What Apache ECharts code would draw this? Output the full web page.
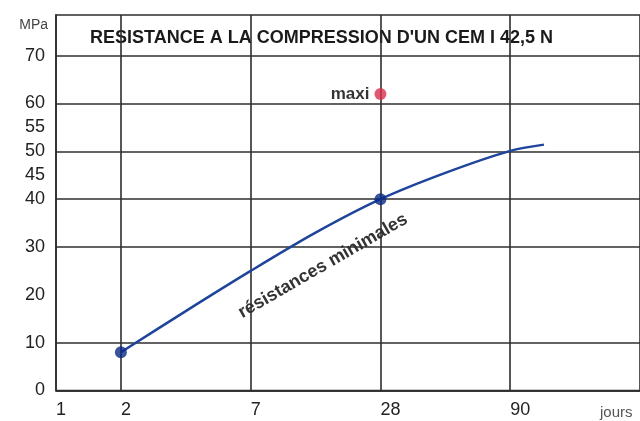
<!DOCTYPE html>
<html><head><meta charset="utf-8">
<script src="https://cdn.jsdelivr.net/npm/echarts@6/dist/echarts.min.js"></script>
<style>html,body{margin:0;padding:0;background:#fff}#c{width:640px;height:421px}</style>
</head><body><div id="c"></div>
<script>
// x axis: positions on the (non-uniform) time axis and their day labels
const dayTickPos = [0, 1, 3, 5, 7];
const dayTickLabels = ['1', '2', '7', '28', '90'];
const verticalGridPos = [1, 3, 5, 7];
// y axis
const mpaLabels = [0, 10, 20, 30, 40, 45, 50, 55, 60, 70];
const mpaGridLines = [0, 10, 30, 40, 50, 60, 70];
// curve "résistances minimales" (x in axis positions, y in MPa)
const curvePos = [1, 2, 3, 4, 5, 6, 7, 7.52];
const curveMPa = [8, 16.6, 25, 33, 40, 45.5, 50.1, 51.4];
// marked points
const minPointsPos = [1, 5];
const minPointsMPa = [8, 40];
const maxiPos = [5];
const maxiMPa = [62];

const FONT = 'Liberation Sans, Arial, sans-serif';
const chart = echarts.init(document.getElementById('c'), null, {renderer: 'canvas'});
const lineC = '#2e2e2e';
chart.setOption({
  animation: false,
  grid: {left: 56, right: -6, top: 15, bottom: 30.5, show: true, borderColor: lineC, borderWidth: 1.6},
  xAxis: {
    type: 'value', min: 0, max: 9,
    axisLine: {show: true, lineStyle: {color: lineC, width: 1.6}},
    axisTick: {show: false, customValues: verticalGridPos},
    splitLine: {show: true, lineStyle: {color: lineC, width: 1.6}},
    axisLabel: {
      customValues: dayTickPos, margin: 11, align: 'left',
      fontFamily: FONT, fontSize: 18, color: '#222',
      formatter: v => { const i = dayTickPos.indexOf(v); return i >= 0 ? dayTickLabels[i] : ''; }
    }
  },
  yAxis: {
    type: 'value', min: 0, max: 78.5,
    axisLine: {show: true, lineStyle: {color: lineC, width: 1.6}},
    axisTick: {show: false, customValues: mpaGridLines},
    splitLine: {show: true, lineStyle: {color: lineC, width: 1.6}},
    axisLabel: {customValues: mpaLabels, margin: 11, fontFamily: FONT, fontSize: 18, color: '#222'}
  },
  graphic: [
    {type: 'text', left: 90, top: 29, style: {text: "RESISTANCE A LA COMPRESSION D'UN CEM I 42,5 N", font: 'bold 18px ' + FONT, fill: '#1a1a1a'}},
    {type: 'text', x: 48, y: 25, style: {text: 'MPa', font: '14px ' + FONT, fill: '#444', align: 'right', verticalAlign: 'middle'}},
    {type: 'text', x: 600, y: 413, style: {text: 'jours', font: '15px ' + FONT, fill: '#555', align: 'left', verticalAlign: 'middle'}},
    {type: 'text', x: 323, y: 266, rotation: Math.PI / 6, style: {text: 'résistances minimales', font: 'bold 18px ' + FONT, fill: '#333', align: 'center', verticalAlign: 'middle'}}
  ],
  series: [
    {type: 'line', data: curvePos.map((x, i) => [x, curveMPa[i]]), smooth: 0.3, showSymbol: false,
     lineStyle: {color: '#1f449c', width: 2.5}, z: 3},
    {type: 'scatter', data: minPointsPos.map((x, i) => [x, minPointsMPa[i]]), symbolSize: 12,
     itemStyle: {color: '#0a2a85'}, z: 4},
    {type: 'scatter', data: maxiPos.map((x, i) => [x, maxiMPa[i]]), symbolSize: 12,
     itemStyle: {color: '#d8304a'}, z: 4,
     label: {show: true, position: 'left', distance: 5, formatter: 'maxi', fontFamily: FONT, fontWeight: 'bold', fontSize: 17, color: '#000'}}
  ]
});
</script></body></html>
